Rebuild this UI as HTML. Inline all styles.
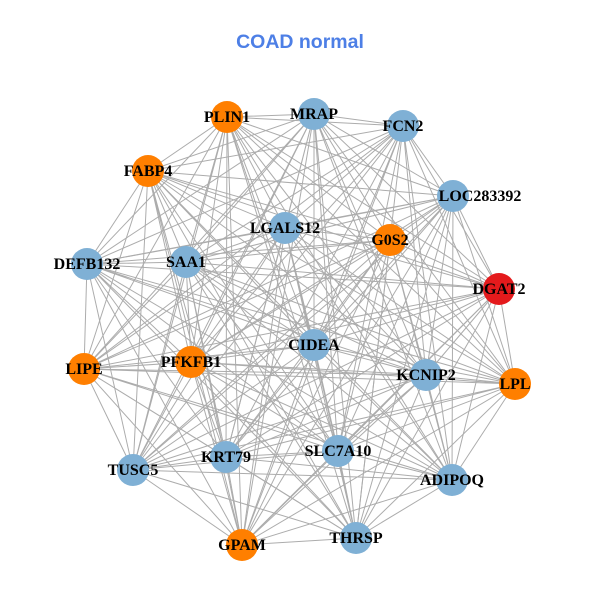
<!DOCTYPE html>
<html><head><style>
body{margin:0;background:#fff}
svg{display:block}
text{font-family:"Liberation Serif",serif;font-weight:bold;font-size:16px;fill:#000;text-anchor:middle}
</style></head><body>
<svg width="600" height="600" viewBox="0 0 600 600">
<rect width="600" height="600" fill="#fff"/>
<text x="300" y="48" style="font-family:'Liberation Sans',sans-serif;font-size:19.5px;fill:#4d7fe6">COAD normal</text>
<g stroke="#acacac" stroke-width="1" fill="none">
<path d="M227 117L314 114M227 117L403 126M227 117L148 171M227 117L453 196M227 117L285 228M227 117L390 240M227 117L87 264M227 117L186 262M227 117L499 289M227 117L314 345M227 117L84 369M227 117L191 362M227 117L426 375M227 117L515 384M227 117L338 451M227 117L226 457M227 117L133 470M227 117L452 480M227 117L242 545M227 117L356 538"/>
<path d="M314 114L403 126M314 114L148 171M314 114L453 196M314 114L285 228M314 114L390 240M314 114L87 264M314 114L186 262M314 114L499 289M314 114L314 345M314 114L84 369M314 114L191 362M314 114L426 375M314 114L515 384M314 114L338 451M314 114L226 457M314 114L133 470M314 114L452 480M314 114L242 545M314 114L356 538"/>
<path d="M403 126L148 171M403 126L453 196M403 126L285 228M403 126L390 240M403 126L87 264M403 126L186 262M403 126L499 289M403 126L314 345M403 126L84 369M403 126L191 362M403 126L426 375M403 126L515 384M403 126L338 451M403 126L226 457M403 126L133 470M403 126L452 480M403 126L242 545M403 126L356 538"/>
<path d="M148 171L453 196M148 171L285 228M148 171L390 240M148 171L87 264M148 171L186 262M148 171L499 289M148 171L314 345M148 171L84 369M148 171L191 362M148 171L426 375M148 171L515 384M148 171L338 451M148 171L226 457M148 171L133 470M148 171L452 480M148 171L242 545M148 171L356 538"/>
<path d="M453 196L285 228M453 196L390 240M453 196L87 264M453 196L186 262M453 196L499 289M453 196L314 345M453 196L84 369M453 196L191 362M453 196L426 375M453 196L515 384M453 196L338 451M453 196L226 457M453 196L133 470M453 196L452 480M453 196L242 545M453 196L356 538"/>
<path d="M285 228L390 240M285 228L87 264M285 228L186 262M285 228L499 289M285 228L314 345M285 228L84 369M285 228L191 362M285 228L426 375M285 228L515 384M285 228L338 451M285 228L226 457M285 228L133 470M285 228L452 480M285 228L242 545M285 228L356 538"/>
<path d="M390 240L87 264M390 240L186 262M390 240L499 289M390 240L314 345M390 240L84 369M390 240L191 362M390 240L426 375M390 240L515 384M390 240L338 451M390 240L226 457M390 240L133 470M390 240L452 480M390 240L242 545M390 240L356 538"/>
<path d="M87 264L186 262M87 264L499 289M87 264L314 345M87 264L84 369M87 264L191 362M87 264L426 375M87 264L515 384M87 264L338 451M87 264L226 457M87 264L133 470M87 264L452 480M87 264L242 545M87 264L356 538"/>
<path d="M186 262L499 289M186 262L314 345M186 262L84 369M186 262L191 362M186 262L426 375M186 262L515 384M186 262L338 451M186 262L226 457M186 262L133 470M186 262L452 480M186 262L242 545M186 262L356 538"/>
<path d="M499 289L314 345M499 289L84 369M499 289L191 362M499 289L426 375M499 289L515 384M499 289L338 451M499 289L226 457M499 289L133 470M499 289L452 480M499 289L242 545M499 289L356 538"/>
<path d="M314 345L84 369M314 345L191 362M314 345L426 375M314 345L515 384M314 345L338 451M314 345L226 457M314 345L133 470M314 345L452 480M314 345L242 545M314 345L356 538"/>
<path d="M84 369L191 362M84 369L426 375M84 369L515 384M84 369L338 451M84 369L226 457M84 369L133 470M84 369L452 480M84 369L242 545M84 369L356 538"/>
<path d="M191 362L426 375M191 362L515 384M191 362L338 451M191 362L226 457M191 362L133 470M191 362L452 480M191 362L242 545M191 362L356 538"/>
<path d="M426 375L515 384M426 375L338 451M426 375L226 457M426 375L133 470M426 375L452 480M426 375L242 545M426 375L356 538"/>
<path d="M515 384L338 451M515 384L226 457M515 384L133 470M515 384L452 480M515 384L242 545M515 384L356 538"/>
<path d="M338 451L226 457M338 451L133 470M338 451L452 480M338 451L242 545M338 451L356 538"/>
<path d="M226 457L133 470M226 457L452 480M226 457L242 545M226 457L356 538"/>
<path d="M133 470L452 480M133 470L242 545M133 470L356 538"/>
<path d="M452 480L242 545M452 480L356 538M242 545L356 538"/>
</g>
<g>
<circle cx="227" cy="117" r="16" fill="#ff7f00"/>
<circle cx="314" cy="114" r="16" fill="#7fb0d5"/>
<circle cx="403" cy="126" r="16" fill="#7fb0d5"/>
<circle cx="148" cy="171" r="16" fill="#ff7f00"/>
<circle cx="453" cy="196" r="16" fill="#7fb0d5"/>
<circle cx="285" cy="228" r="16" fill="#7fb0d5"/>
<circle cx="390" cy="240" r="16" fill="#ff7f00"/>
<circle cx="87" cy="264" r="16" fill="#7fb0d5"/>
<circle cx="186" cy="262" r="16" fill="#7fb0d5"/>
<circle cx="499" cy="289" r="16" fill="#e41a1c"/>
<circle cx="314" cy="345" r="16" fill="#7fb0d5"/>
<circle cx="84" cy="369" r="16" fill="#ff7f00"/>
<circle cx="191" cy="362" r="16" fill="#ff7f00"/>
<circle cx="426" cy="375" r="16" fill="#7fb0d5"/>
<circle cx="515" cy="384" r="16" fill="#ff7f00"/>
<circle cx="338" cy="451" r="16" fill="#7fb0d5"/>
<circle cx="226" cy="457" r="16" fill="#7fb0d5"/>
<circle cx="133" cy="470" r="16" fill="#7fb0d5"/>
<circle cx="452" cy="480" r="16" fill="#7fb0d5"/>
<circle cx="242" cy="545" r="16" fill="#ff7f00"/>
<circle cx="356" cy="538" r="16" fill="#7fb0d5"/>
</g>
<g>
<text x="227" y="122">PLIN1</text>
<text x="314" y="119">MRAP</text>
<text x="403" y="131">FCN2</text>
<text x="148" y="176">FABP4</text>
<text x="480" y="201">LOC283392</text>
<text x="285" y="233">LGALS12</text>
<text x="390" y="245">G0S2</text>
<text x="87" y="269">DEFB132</text>
<text x="186" y="267">SAA1</text>
<text x="499" y="294">DGAT2</text>
<text x="314" y="350">CIDEA</text>
<text x="84" y="374">LIPE</text>
<text x="191" y="367">PFKFB1</text>
<text x="426" y="380">KCNIP2</text>
<text x="515" y="389">LPL</text>
<text x="338" y="456">SLC7A10</text>
<text x="226" y="462">KRT79</text>
<text x="133" y="475">TUSC5</text>
<text x="452" y="485">ADIPOQ</text>
<text x="242" y="550">GPAM</text>
<text x="356" y="543">THRSP</text>
</g>
</svg>
</body></html>
